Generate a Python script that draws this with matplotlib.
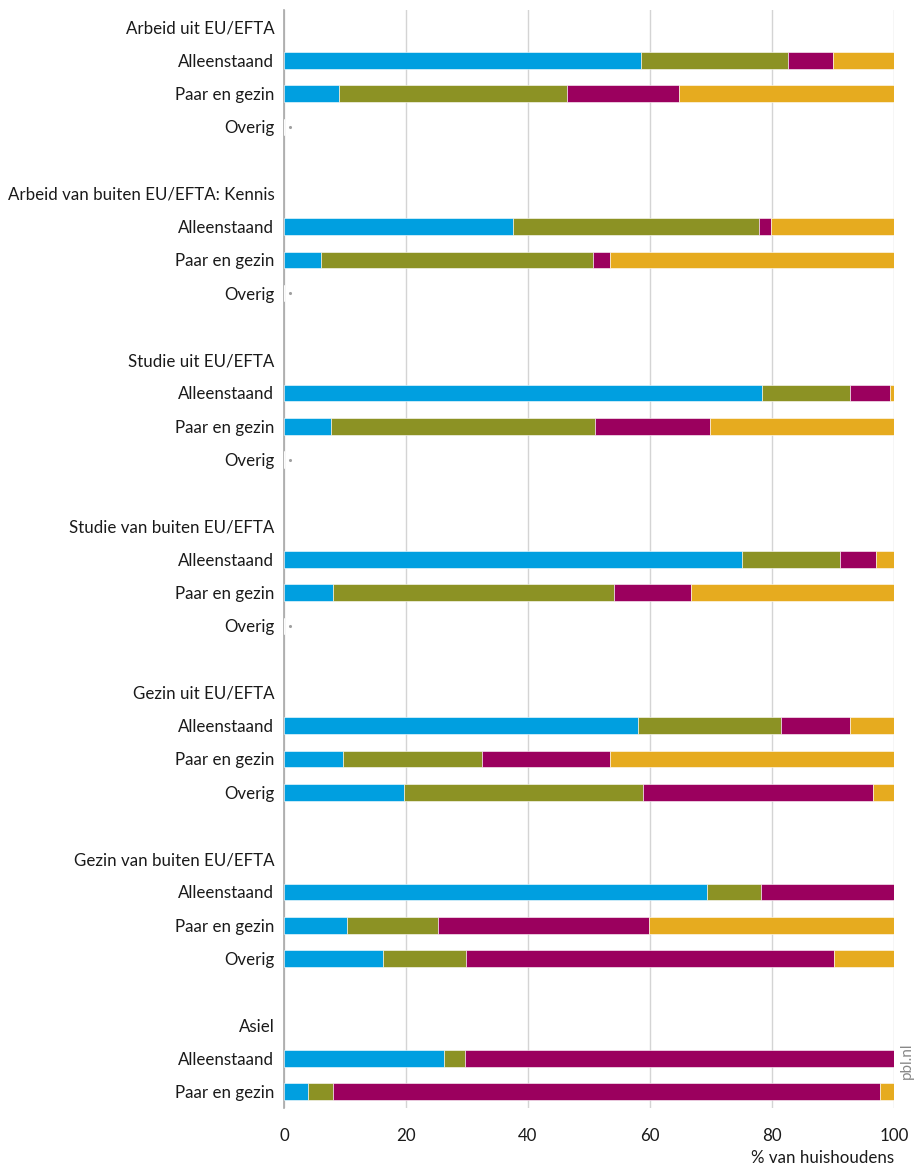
import matplotlib.pyplot as plt
import numpy as np

plt.rcParams['font.family'] = ['Lato', 'DejaVu Sans']

# groepen en huishoudtypen
groups = ["Arbeid uit EU/EFTA", "Arbeid van buiten EU/EFTA: Kennis", "Studie uit EU/EFTA",
          "Studie van buiten EU/EFTA", "Gezin uit EU/EFTA", "Gezin van buiten EU/EFTA", "Asiel"]
household = ["Alleenstaand", "Paar en gezin", "Overig"]
rows_per_group = [3, 3, 3, 3, 3, 3, 2]

nan = np.nan
# aandelen (%) per segment, in volgorde van de rijen; nan = geen gegevens
seg_blue = [58.5, 9.0, nan, 37.5, 6.1, nan, 78.3, 7.7, nan, 75.1, 8.0, nan,
            58.0, 9.7, 19.6, 69.3, 10.3, 16.2, 26.2, 3.9]
seg_olive = [24.1, 37.4, nan, 40.3, 44.6, nan, 14.4, 43.3, nan, 16.0, 46.1, nan,
             23.5, 22.8, 39.3, 8.9, 15.0, 13.7, 3.4, 4.1]
seg_purple = [7.4, 18.3, nan, 2.0, 2.8, nan, 6.7, 18.9, nan, 5.9, 12.6, nan,
              11.2, 21.0, 37.6, 21.8, 34.5, 60.2, 70.4, 89.7]
seg_orange = [10.0, 35.3, nan, 20.2, 46.5, nan, 0.6, 30.1, nan, 3.0, 33.3, nan,
              7.3, 46.5, 3.5, 0.0, 40.2, 9.9, 0.0, 2.3]

colors = ['#009fe0', '#8c9224', '#9b005e', '#e6ab1f']

# posities en labels opbouwen
tick_pos, tick_lab, bar_pos = [], [], []
y = 0
for g, n in zip(groups, rows_per_group):
    tick_pos.append(y)
    tick_lab.append(g)
    for i in range(n):
        y += 1
        tick_pos.append(y)
        tick_lab.append(household[i])
        bar_pos.append(y)
    y += 2
bar_pos = np.array(bar_pos)

fig = plt.figure(figsize=(9.15, 11.7), dpi=100)
ax = fig.add_axes([0.3104, 0.0528, 0.6667, 0.9383])

data = np.array([seg_blue, seg_olive, seg_purple, seg_orange])
left = np.zeros(len(bar_pos))
for vals, c in zip(data, colors):
    v = np.nan_to_num(vals)
    ax.barh(bar_pos, v, left=left, height=0.5, color=c, edgecolor='white', linewidth=0.4, zorder=3)
    left += v

missing = np.isnan(data[0])
ax.scatter(np.ones(missing.sum()), bar_pos[missing], s=1.5, color='#a0a0a0', zorder=3)

ax.set_xlim(0, 100)
ax.set_ylim(tick_pos[-1] + 0.5, -0.5)
ax.set_yticks(tick_pos)
ax.set_yticklabels(tick_lab, fontsize=12.2, color='#1a1a1a')
ax.set_xticks([0, 20, 40, 60, 80, 100])
ax.tick_params(axis='both', length=0, labelsize=12.2, colors='#1a1a1a')
ax.tick_params(axis='y', pad=7)
ax.tick_params(axis='x', pad=14)
ax.grid(axis='x', color='#d4d4d4', linewidth=1, zorder=0)
for s in ['top', 'right', 'bottom']:
    ax.spines[s].set_visible(False)
ax.spines['left'].set_color('#a8a8a8')
ax.spines['left'].set_linewidth(1.2)

fig.text(0.977, 0.003, '% van huishoudens', ha='right', va='bottom', fontsize=12.2, color='#1a1a1a')
fig.text(0.991, 0.093, 'pbl.nl', rotation=90, ha='center', va='center', fontsize=11, color='#888888')

fig.savefig('out.png', dpi=100)
